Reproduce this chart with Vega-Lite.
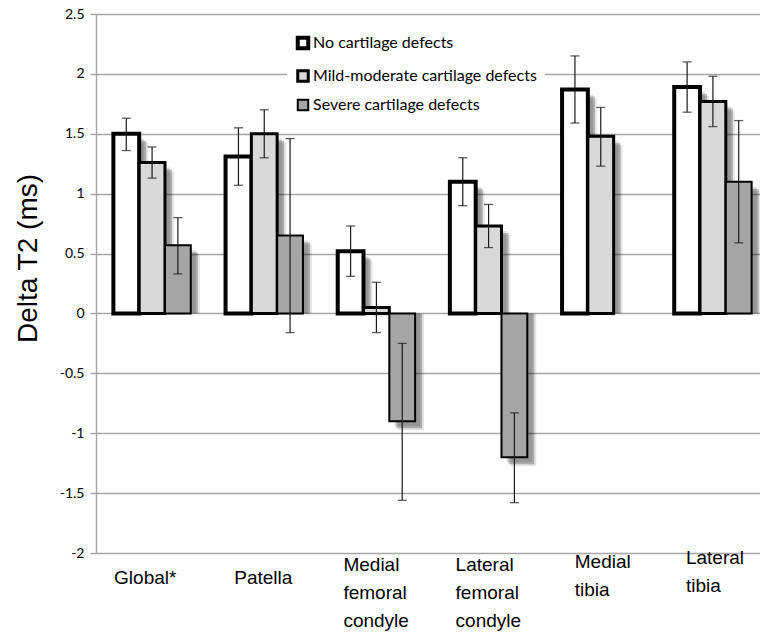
{
  "$schema": "https://vega.github.io/schema/vega-lite/v6.json",
  "autosize": {"type": "none"},
  "padding": {"left": 96, "top": 14, "right": 0, "bottom": 84},
  "width": 664,
  "height": 539,
  "background": "white",
  "data": {
    "values": [
      {"region": "Global*", "group": "No cartilage defects", "value": 1.50, "lo": 1.36, "hi": 1.63},
      {"region": "Global*", "group": "Mild-moderate cartilage defects", "value": 1.26, "lo": 1.13, "hi": 1.39},
      {"region": "Global*", "group": "Severe cartilage defects", "value": 0.57, "lo": 0.33, "hi": 0.80},
      {"region": "Patella", "group": "No cartilage defects", "value": 1.31, "lo": 1.07, "hi": 1.55},
      {"region": "Patella", "group": "Mild-moderate cartilage defects", "value": 1.50, "lo": 1.30, "hi": 1.70},
      {"region": "Patella", "group": "Severe cartilage defects", "value": 0.65, "lo": -0.16, "hi": 1.46},
      {"region": "Medial femoral condyle", "group": "No cartilage defects", "value": 0.52, "lo": 0.31, "hi": 0.73},
      {"region": "Medial femoral condyle", "group": "Mild-moderate cartilage defects", "value": 0.05, "lo": -0.16, "hi": 0.26},
      {"region": "Medial femoral condyle", "group": "Severe cartilage defects", "value": -0.90, "lo": -1.56, "hi": -0.25},
      {"region": "Lateral femoral condyle", "group": "No cartilage defects", "value": 1.10, "lo": 0.90, "hi": 1.30},
      {"region": "Lateral femoral condyle", "group": "Mild-moderate cartilage defects", "value": 0.73, "lo": 0.55, "hi": 0.91},
      {"region": "Lateral femoral condyle", "group": "Severe cartilage defects", "value": -1.20, "lo": -1.58, "hi": -0.83},
      {"region": "Medial tibia", "group": "No cartilage defects", "value": 1.87, "lo": 1.59, "hi": 2.15},
      {"region": "Medial tibia", "group": "Mild-moderate cartilage defects", "value": 1.48, "lo": 1.23, "hi": 1.72},
      {"region": "Lateral tibia", "group": "No cartilage defects", "value": 1.89, "lo": 1.68, "hi": 2.10},
      {"region": "Lateral tibia", "group": "Mild-moderate cartilage defects", "value": 1.77, "lo": 1.56, "hi": 1.98},
      {"region": "Lateral tibia", "group": "Severe cartilage defects", "value": 1.10, "lo": 0.59, "hi": 1.61}
    ]
  },
  "encoding": {
    "x": {
      "field": "region",
      "type": "nominal",
      "sort": ["Global*", "Patella", "Medial femoral condyle", "Lateral femoral condyle", "Medial tibia", "Lateral tibia"],
      "scale": {"range": [0, 673], "paddingInner": 0.31, "paddingOuter": 0.155},
      "axis": {
        "title": null,
        "domain": false,
        "ticks": false,
        "labelAngle": 0,
        "labelFont": "Liberation Sans",
        "labelFontSize": 19,
        "labelColor": "black",
        "labelExpr": "split(datum.label, ' ')",
        "labelLineHeight": 28,
        "labelBaseline": "middle",
        "labelAlign": "left",
        "labelPadding": {
          "condition": [
            {"test": "datum.value == 'Medial femoral condyle' || datum.value == 'Lateral femoral condyle'", "value": 11},
            {"test": "datum.value == 'Medial tibia'", "value": 8},
            {"test": "datum.value == 'Lateral tibia'", "value": 4}
          ],
          "value": 24
        },
        "labelOffset": {
          "condition": [
            {"test": "datum.value == 'Global*'", "value": -38},
            {"test": "datum.value == 'Patella'", "value": -30},
            {"test": "datum.value == 'Medial femoral condyle' || datum.value == 'Lateral femoral condyle'", "value": -33},
            {"test": "datum.value == 'Medial tibia'", "value": -26}
          ],
          "value": -27
        },
        "labelLimit": 0
      }
    }
  },
  "layer": [
    {
      "mark": {"type": "bar", "color": "#000000", "opacity": 0.12, "yOffset": 5},
      "encoding": {
        "xOffset": {
          "field": "group",
          "type": "nominal",
          "scale": {"domain": ["No cartilage defects", "Mild-moderate cartilage defects", "Severe cartilage defects"], "range": [5, 82.4], "paddingInner": 0, "paddingOuter": 0}
        },
        "y": {"field": "value", "type": "quantitative", "scale": {"domain": [-2, 2.5], "nice": false, "zero": true}},
        "y2": {"datum": 0}
      }
    },
    {
      "mark": {"type": "bar", "color": "#000000", "opacity": 0.25, "yOffset": 7},
      "encoding": {
        "xOffset": {
          "field": "group",
          "type": "nominal",
          "scale": {"domain": ["No cartilage defects", "Mild-moderate cartilage defects", "Severe cartilage defects"], "range": [7, 84.4], "paddingInner": 0, "paddingOuter": 0}
        },
        "y": {"field": "value", "type": "quantitative"},
        "y2": {"datum": 0}
      }
    },
    {
      "mark": {"type": "bar", "color": "#000000", "opacity": 0.1, "yOffset": 9},
      "encoding": {
        "xOffset": {
          "field": "group",
          "type": "nominal",
          "scale": {"domain": ["No cartilage defects", "Mild-moderate cartilage defects", "Severe cartilage defects"], "range": [9, 86.4], "paddingInner": 0, "paddingOuter": 0}
        },
        "y": {"field": "value", "type": "quantitative"},
        "y2": {"datum": 0}
      }
    },
    {
      "encoding": {
        "xOffset": {
          "field": "group",
          "type": "nominal",
          "scale": {"domain": ["No cartilage defects", "Mild-moderate cartilage defects", "Severe cartilage defects"], "range": [0, 77.4], "paddingInner": 0, "paddingOuter": 0}
        }
      },
      "layer": [
        {
          "mark": {"type": "bar", "stroke": "black", "strokeJoin": "miter"},
          "encoding": {
            "y": {
              "field": "value",
              "type": "quantitative",
              "axis": {
                "title": "Delta T2 (ms)",
                "titleFont": "Liberation Sans",
                "titleFontSize": 28,
                "titleFontWeight": "normal",
                "titleColor": "black",
                "titleX": -60,
                "titleY": 244,
                "titleAngle": -90,
                "titleAlign": "center",
                "titleBaseline": "alphabetic",
                "values": [-2, -1.5, -1, -0.5, 0, 0.5, 1, 1.5, 2, 2.5],
                "labelExpr": "toString(datum.value)",
                "labelFont": "Lato",
                "labelFontSize": 14,
                "labelColor": "black",
                "labelPadding": 6,
                "tickSize": 6,
                "tickColor": "#a6a6a6",
                "tickWidth": 1.5,
                "domainColor": "#a6a6a6",
                "domainWidth": 1.5,
                "gridColor": "#a6a6a6",
                "gridWidth": 1.5,
                "gridOpacity": 1
              }
            },
            "y2": {"datum": 0},
            "fill": {
              "field": "group",
              "type": "nominal",
              "scale": {
                "domain": ["No cartilage defects", "Mild-moderate cartilage defects", "Severe cartilage defects"],
                "range": ["#ffffff", "#d9d9d9", "#a6a6a6"]
              },
              "legend": {
                "title": null,
                "orient": "none",
                "legendX": 191,
                "legendY": 13,
                "fillColor": "white",
                "padding": 8,
                "rowPadding": 7,
                "symbolType": "square",
                "symbolSize": 110,
                "symbolStrokeColor": "black",
                "symbolStrokeWidth": 2,
                "symbolOpacity": 1,
                "labelFont": "Lato",
                "labelFontSize": 16,
                "labelColor": "black",
                "labelOffset": 2,
                "labelLimit": 0,
                "encode": {
                  "symbols": {"update": {"strokeWidth": {"signal": "datum.value == 'No cartilage defects' ? 3 : 1.8"}}}
                }
              }
            },
            "strokeWidth": {
              "field": "group",
              "type": "nominal",
              "scale": {
                "domain": ["No cartilage defects", "Mild-moderate cartilage defects", "Severe cartilage defects"],
                "range": [4, 2, 2]
              },
              "legend": null
            }
          }
        },
        {
          "mark": {"type": "rule", "color": "#1a1a1a", "strokeWidth": 1.2},
          "encoding": {
            "y": {"field": "lo", "type": "quantitative"},
            "y2": {"field": "hi"}
          }
        },
        {
          "mark": {"type": "tick", "color": "#1a1a1a", "size": 9, "thickness": 1.3},
          "encoding": {
            "y": {"field": "lo", "type": "quantitative"}
          }
        },
        {
          "mark": {"type": "tick", "color": "#1a1a1a", "size": 9, "thickness": 1.3},
          "encoding": {
            "y": {"field": "hi", "type": "quantitative"}
          }
        }
      ]
    }
  ],
  "resolve": {"scale": {"xOffset": "independent"}},
  "config": {
    "view": {"stroke": null},
    "axis": {"grid": true},
    "axisX": {"grid": false}
  }
}
